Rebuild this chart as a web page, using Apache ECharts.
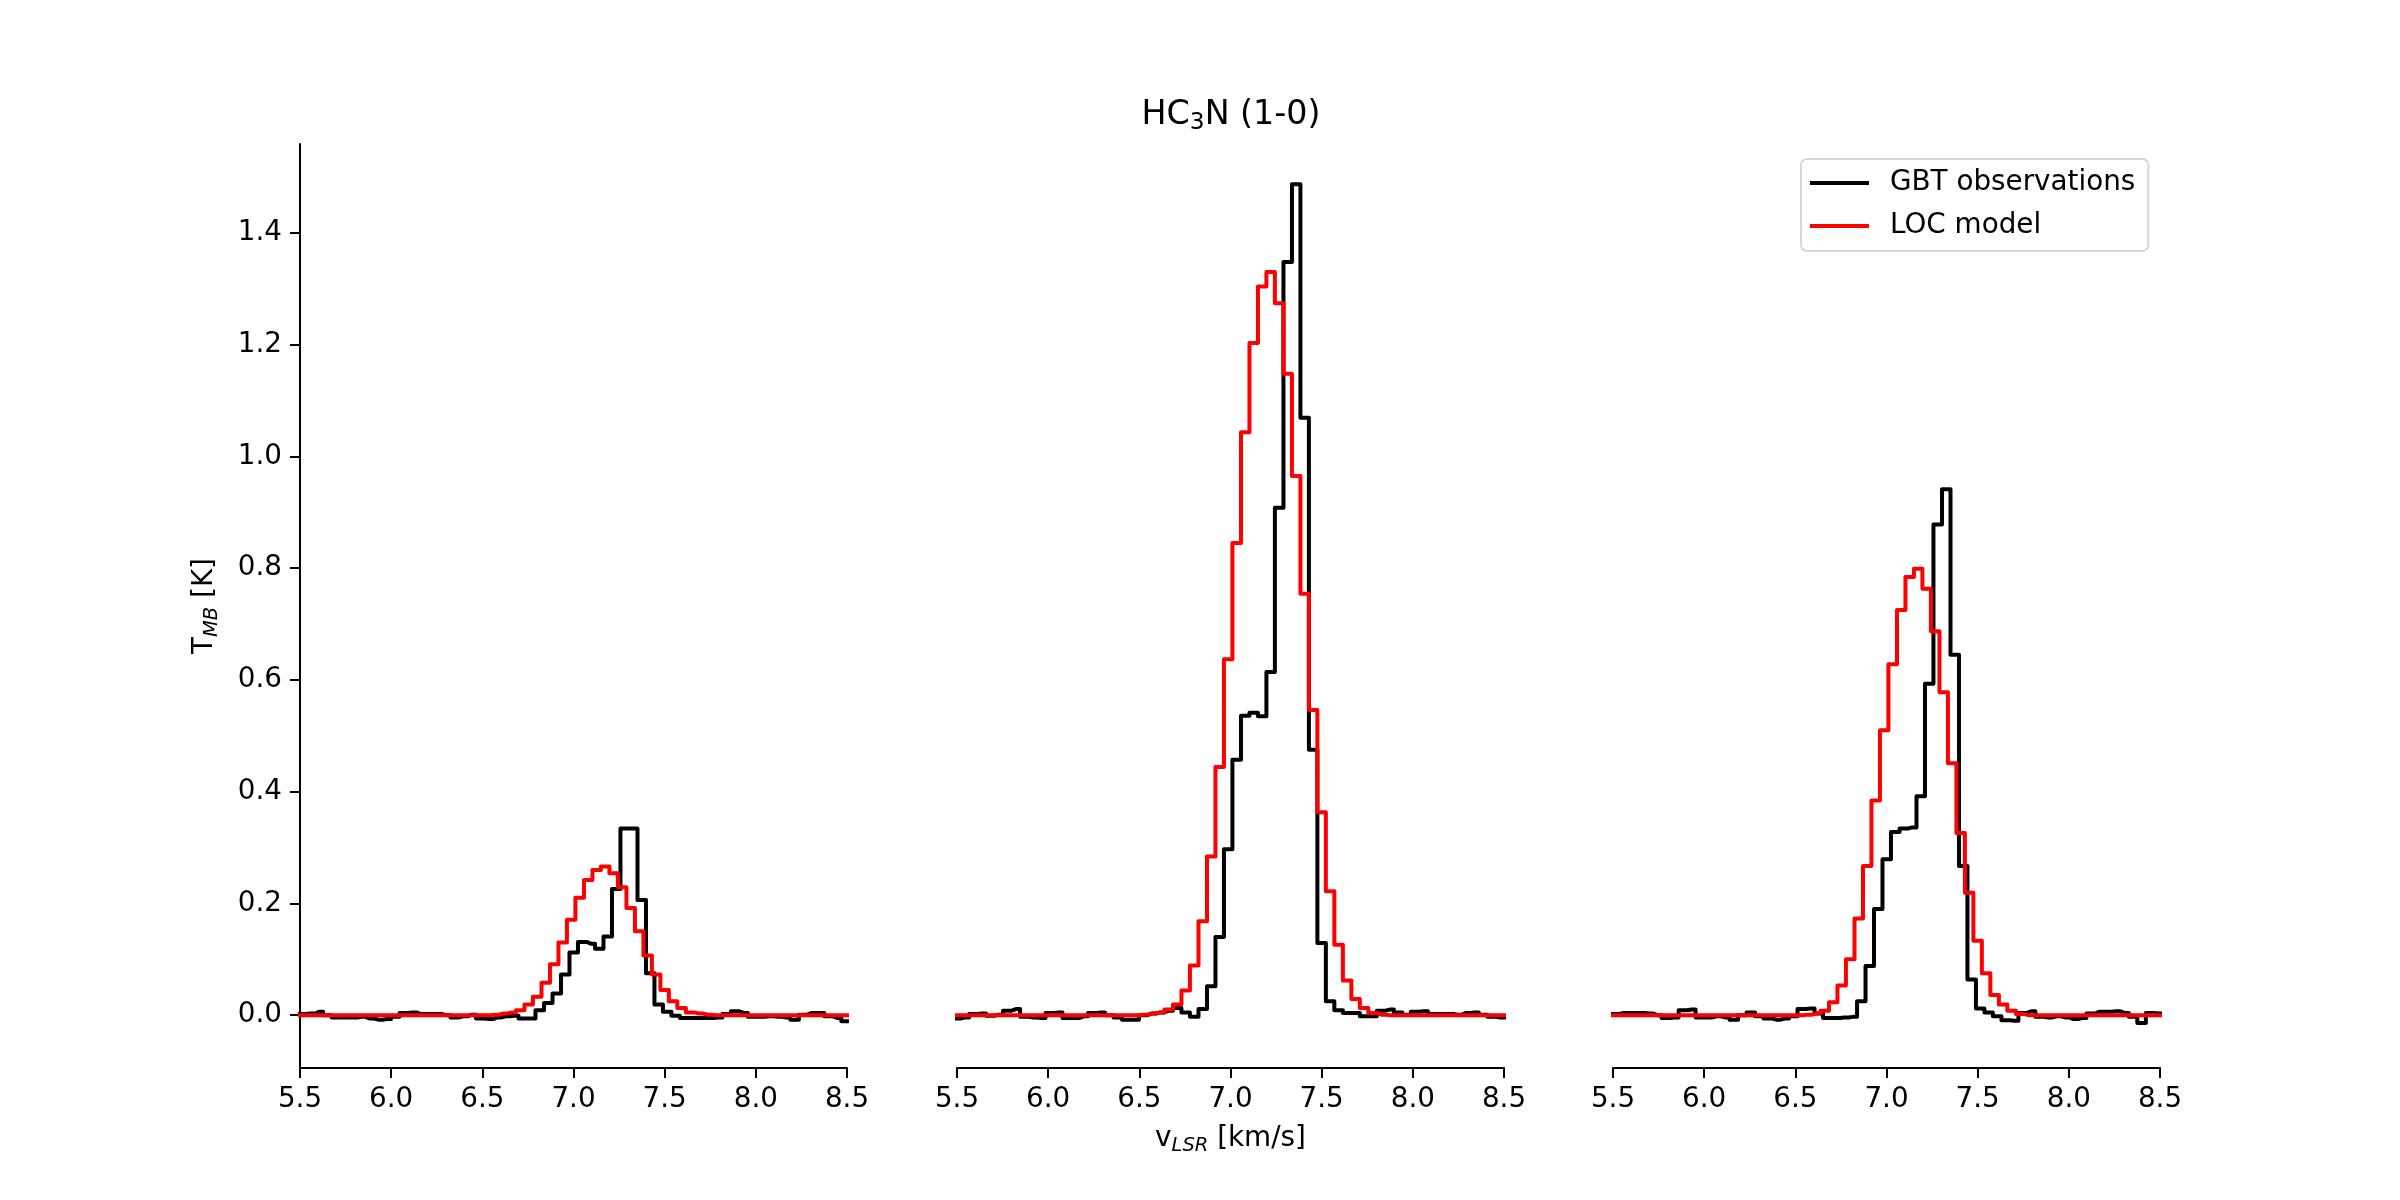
<!DOCTYPE html>
<html>
<head>
<meta charset="utf-8">
<title>HC3N (1-0)</title>
<script src="https://cdn.jsdelivr.net/npm/echarts@6/dist/echarts.min.js"></script>
<style>
  html, body { margin: 0; padding: 0; background: #fff; }
  #chart { width: 2400px; height: 1200px; }
</style>
</head>
<body>
<div id="chart"></div>
<script>
// channel centres (km/s) of the model grid, also used by the second observed spectrum
var velocity = [5.450, 5.496, 5.543, 5.590, 5.636, 5.683, 5.729, 5.776, 5.823, 5.869,
                5.916, 5.962, 6.009, 6.055, 6.102, 6.149, 6.195, 6.242, 6.288, 6.335,
                6.382, 6.428, 6.475, 6.521, 6.568, 6.615, 6.661, 6.708, 6.754, 6.801,
                6.848, 6.894, 6.941, 6.987, 7.034, 7.081, 7.127, 7.174, 7.220, 7.267,
                7.314, 7.360, 7.407, 7.453, 7.500, 7.546, 7.593, 7.640, 7.686, 7.733,
                7.779, 7.826, 7.873, 7.919, 7.966, 8.012, 8.059, 8.106, 8.152, 8.199,
                8.245, 8.292, 8.338, 8.385, 8.432, 8.478, 8.525];
// channel centres of the first and third observed spectra (slightly offset grid)
var velocityObs = [5.464, 5.510, 5.557, 5.604, 5.650, 5.697, 5.743, 5.790, 5.837, 5.883,
                   5.930, 5.976, 6.023, 6.069, 6.116, 6.163, 6.209, 6.256, 6.302, 6.349,
                   6.396, 6.442, 6.489, 6.535, 6.582, 6.629, 6.675, 6.722, 6.768, 6.815,
                   6.862, 6.908, 6.955, 7.001, 7.048, 7.095, 7.141, 7.188, 7.234, 7.281,
                   7.328, 7.374, 7.421, 7.467, 7.514, 7.560, 7.607, 7.654, 7.700, 7.747,
                   7.793, 7.840, 7.887, 7.933, 7.980, 8.026, 8.073, 8.120, 8.166, 8.213,
                   8.259, 8.306, 8.352, 8.399, 8.446, 8.492, 8.539];

// T_MB [K], panel 1
var obs1 = [0.002, 0.002, 0.003, 0.006, 0.000, -0.004, -0.004, -0.004, -0.003, -0.006,
            -0.008, -0.007, -0.003, 0.004, 0.005, 0.002, 0.002, 0.002, 0.000, -0.004,
            -0.002, 0.001, -0.006, -0.007, -0.004, -0.002, -0.001, -0.006, -0.006, 0.009,
            0.022, 0.039, 0.073, 0.112, 0.131, 0.128, 0.119, 0.141, 0.226, 0.334,
            0.334, 0.206, 0.075, 0.019, 0.006, -0.001, -0.005, -0.005, -0.005, -0.005,
            -0.004, 0.002, 0.007, 0.004, -0.003, -0.003, -0.002, -0.003, -0.004, -0.008,
            0.001, 0.004, 0.004, -0.002, -0.005, -0.011, -0.011];
var model1 = [0, 0, 0, 0, 0, 0, 0, 0, 0, 0,
              0, 0, 0, 0, 0, 0, 0, 0, 0, 0,
              0, 0, 0, 0, 0.001, 0.003, 0.005, 0.009, 0.019, 0.033,
              0.058, 0.091, 0.130, 0.171, 0.210, 0.242, 0.260, 0.266, 0.254, 0.229,
              0.192, 0.150, 0.107, 0.073, 0.045, 0.025, 0.013, 0.005, 0.003, 0.001,
              0, 0, 0, 0, 0, 0, 0, 0, 0, 0,
              0, 0, 0, 0, 0, 0, 0];

// panel 2
var obs2 = [-0.006, -0.006, -0.004, 0.002, 0.003, -0.001, 0.001, 0.008, 0.011, -0.003,
            -0.004, -0.005, 0.004, 0.005, -0.005, -0.005, -0.002, 0.004, 0.005, 0.000,
            -0.004, -0.008, -0.008, 0.000, 0.003, 0.005, 0.008, 0.013, 0.005, -0.003,
            0.011, 0.052, 0.140, 0.297, 0.457, 0.536, 0.541, 0.535, 0.614, 0.908,
            1.348, 1.487, 1.069, 0.475, 0.129, 0.025, 0.009, 0.004, 0.004, -0.002,
            -0.002, 0.008, 0.010, 0.005, 0.001, 0.006, 0.007, 0.002, 0.002, 0.002,
            0.001, 0.004, 0.005, 0.001, -0.003, -0.004, -0.004];
var model2 = [0, 0, 0, 0, 0, 0, 0, 0, 0, 0,
              0, 0, 0, 0, 0, 0, 0, 0, 0, 0,
              0, 0, 0, 0.001, 0.003, 0.005, 0.010, 0.019, 0.044, 0.089,
              0.168, 0.284, 0.444, 0.637, 0.845, 1.043, 1.203, 1.304, 1.330, 1.274,
              1.148, 0.965, 0.754, 0.546, 0.363, 0.222, 0.126, 0.062, 0.029, 0.013,
              0.004, 0.001, 0, 0, 0, 0, 0, 0, 0, 0,
              0, 0, 0, 0, 0, 0, 0];

// panel 3
var obs3 = [0.002, 0.002, 0.004, 0.004, 0.004, 0.003, 0.000, -0.005, -0.004, 0.009,
            0.010, -0.004, -0.004, -0.002, -0.004, -0.008, 0.000, 0.005, -0.002, -0.006,
            -0.008, -0.006, -0.002, 0.011, 0.012, 0.003, -0.005, -0.005, -0.004, -0.003,
            0.025, 0.088, 0.190, 0.279, 0.328, 0.334, 0.336, 0.392, 0.593, 0.878,
            0.941, 0.645, 0.267, 0.064, 0.012, 0.005, -0.002, -0.009, -0.010, 0.004,
            0.007, -0.003, -0.004, -0.002, -0.004, -0.007, -0.005, 0.003, 0.006, 0.006,
            0.007, 0.004, -0.003, -0.014, 0.004, 0.003, 0.003];
var model3 = [0, 0, 0, 0, 0, 0, 0, 0, 0, 0,
              0, 0, 0, 0, 0, 0, 0, 0, 0, 0,
              0, 0, 0, 0, 0.001, 0.003, 0.008, 0.023, 0.053, 0.100,
              0.173, 0.267, 0.384, 0.510, 0.628, 0.725, 0.784, 0.799, 0.763, 0.687,
              0.578, 0.451, 0.326, 0.219, 0.133, 0.075, 0.036, 0.019, 0.008, 0.002,
              0, 0, 0, 0, 0, 0, 0, 0, 0, 0,
              0, 0, 0, 0, 0, 0, 0];

var yTicks = [0, 0.2, 0.4, 0.6, 0.8, 1.0, 1.2, 1.4];
var seriesNames = ['GBT observations', 'LOC model'];

var FONT = 'DejaVu Sans';
var chart = echarts.init(document.getElementById('chart'));

function pairs(xs, ys) {
    return xs.map(function (v, i) { return [v, ys[i]]; });
}

function spectrum(name, xs, ys, idx, color) {
    return {
        name: name,
        type: 'line',
        xAxisIndex: idx,
        yAxisIndex: idx,
        step: 'middle',
        symbol: 'none',
        showSymbol: false,
        clip: true,
        lineStyle: { color: color, width: 4, join: 'round' },
        itemStyle: { color: color },
        emphasis: { disabled: true },
        data: pairs(xs, ys)
    };
}

function xAxisFor(idx) {
    var ax = {
        type: 'value',
        gridIndex: idx,
        min: 5.5,
        max: 8.5,
        interval: 0.5,
        axisLine: { show: true, onZero: false, lineStyle: { color: '#000', width: 2 } },
        axisTick: { show: true, inside: false, length: 10, lineStyle: { color: '#000', width: 2 } },
        axisLabel: {
            show: true, margin: 18, color: '#000', fontFamily: FONT, fontSize: 27.8,
            showMinLabel: true, showMaxLabel: true,
            formatter: function (v) { return v.toFixed(1); }
        },
        splitLine: { show: false }
    };
    if (idx === 1) {
        ax.name = '{n|v}{s|LSR}{n| [km/s]}';
        ax.nameLocation = 'middle';
        ax.nameGap = 54;
        ax.nameTextStyle = {
            color: '#000', fontFamily: FONT,
            rich: {
                n: { fontFamily: FONT, fontSize: 27.8, lineHeight: 34, color: '#000' },
                s: { fontFamily: FONT, fontSize: 19.5, fontStyle: 'italic', lineHeight: 18, verticalAlign: 'bottom', color: '#000' }
            }
        };
    }
    return ax;
}

function yAxisFor(idx) {
    var ax = {
        type: 'value',
        gridIndex: idx,
        min: -0.0945,
        max: 1.559,
        show: idx === 0,
        axisLine: { show: true, onZero: false, lineStyle: { color: '#000', width: 2 } },
        axisTick: { show: true, inside: false, length: 10, customValues: yTicks, lineStyle: { color: '#000', width: 2 } },
        axisLabel: {
            show: true, margin: 18, color: '#000', fontFamily: FONT, fontSize: 27.8,
            customValues: yTicks,
            formatter: function (v) { return v.toFixed(1); }
        },
        splitLine: { show: false }
    };
    if (idx === 0) {
        ax.name = '{n|T}{s|MB}{n| [K]}';
        ax.nameLocation = 'middle';
        ax.nameRotate = 90;
        ax.nameGap = 78;
        ax.nameTextStyle = {
            color: '#000', fontFamily: FONT,
            rich: {
                n: { fontFamily: FONT, fontSize: 27.8, lineHeight: 34, color: '#000' },
                s: { fontFamily: FONT, fontSize: 19.5, fontStyle: 'italic', lineHeight: 18, verticalAlign: 'bottom', color: '#000' }
            }
        };
    }
    return ax;
}

var option = {
    animation: false,
    backgroundColor: '#ffffff',
    textStyle: { fontFamily: FONT },
    graphic: [{
        type: 'text',
        x: 1231,
        y: 115,
        style: {
            text: '{n|HC}{s|3}{n|N (1-0)}',
            align: 'center',
            verticalAlign: 'middle',
            fill: '#000',
            rich: {
                n: { fontFamily: FONT, fontSize: 33.3, lineHeight: 38, fill: '#000' },
                s: { fontFamily: FONT, fontSize: 23.3, lineHeight: 19, verticalAlign: 'bottom', fill: '#000' }
            }
        }
    }],
    legend: {
        orient: 'vertical',
        left: 1801,
        top: 159,
        padding: [10, 13, 11, 9],
        itemGap: 15,
        itemWidth: 59,
        itemHeight: 4,
        icon: 'rect',
        selectedMode: false,
        backgroundColor: 'rgba(255,255,255,0.8)',
        borderColor: '#d6d6d6',
        borderWidth: 2,
        borderRadius: 6,
        textStyle: { fontFamily: FONT, fontSize: 27.8, lineHeight: 28, color: '#000', padding: [0, 0, 0, 16] },
        data: seriesNames
    },
    grid: [
        { left: 300, top: 144, width: 547, height: 924 },
        { left: 957, top: 144, width: 547, height: 924 },
        { left: 1613, top: 144, width: 547, height: 924 }
    ],
    xAxis: [xAxisFor(0), xAxisFor(1), xAxisFor(2)],
    yAxis: [yAxisFor(0), yAxisFor(1), yAxisFor(2)],
    series: [
        spectrum(seriesNames[0], velocityObs, obs1, 0, '#000000'),
        spectrum(seriesNames[1], velocity, model1, 0, '#ff0000'),
        spectrum(seriesNames[0], velocity, obs2, 1, '#000000'),
        spectrum(seriesNames[1], velocity, model2, 1, '#ff0000'),
        spectrum(seriesNames[0], velocityObs, obs3, 2, '#000000'),
        spectrum(seriesNames[1], velocity, model3, 2, '#ff0000')
    ]
};

chart.setOption(option);
</script>
</body>
</html>
